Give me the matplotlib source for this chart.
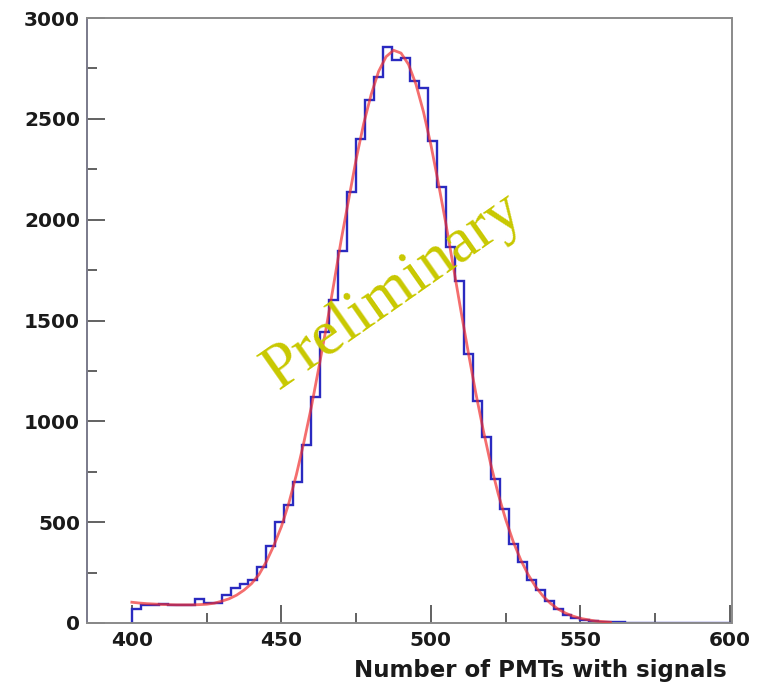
import numpy as np
import matplotlib
matplotlib.use("Agg")
import matplotlib.pyplot as plt
from matplotlib.ticker import MultipleLocator

# Histogram: bins of width 3 starting at 400
bin_width = 3
bin_start = 400
counts = [
    70, 88, 90, 92, 88, 87, 90, 118, 97, 98,
    137, 172, 192, 215, 277, 380, 503, 583, 698, 885,
    1119, 1441, 1600, 1845, 2135, 2398, 2591, 2706, 2857, 2790,
    2800, 2687, 2655, 2390, 2160, 1866, 1697, 1334, 1102, 921,
    715, 566, 393, 302, 211, 165, 108, 67, 42, 25,
    14, 10, 7, 5, 3, 2, 2, 1, 1, 0,
    0, 0, 0, 0, 0, 0, 0,
]

# Fitted curve, sampled every 2.5 units
fit_x = [400 + 2.5 * i for i in range(65)]
fit_y = [
    103, 99, 96, 94, 92, 91, 90, 90, 90, 91,
    93, 98, 108, 120, 138, 163, 195, 240, 305, 385,
    478, 595, 735, 895, 1070, 1265, 1465, 1680, 1900, 2100,
    2300, 2475, 2620, 2735, 2808, 2840, 2826, 2770, 2671, 2535,
    2370, 2180, 1980, 1766, 1550, 1341, 1140, 956, 787, 640,
    513, 404, 314, 240, 180, 133, 97, 69, 49, 34,
    23, 16, 10, 7, 4,
]

x_ticks = [400, 450, 500, 550, 600]
y_ticks = [0, 500, 1000, 1500, 2000, 2500, 3000]
x_title = "Number of PMTs with signals"
watermark = "Preliminary"

W, H = 765, 687
fig = plt.figure(figsize=(W / 100, H / 100), dpi=100)
ax = fig.add_axes([87 / W, 1 - 623 / H, (731.5 - 87) / W, (623 - 18) / H])

edges = bin_start + bin_width * np.arange(len(counts) + 1)
ax.stairs(counts, edges, baseline=0, color="#2a2ac0", lw=1.7, zorder=2)
ax.plot(fit_x, fit_y, color="#f03030", lw=2.0, alpha=0.7, zorder=3,
        solid_joinstyle="round")

ax.set_xlim(385, 600.5)
ax.set_ylim(0, 3000)
ax.set_xticks(x_ticks)
ax.set_yticks(y_ticks)
ax.xaxis.set_minor_locator(MultipleLocator(25))
ax.yaxis.set_minor_locator(MultipleLocator(250))

for sp in ax.spines.values():
    sp.set_color("#8a8a8a")
    sp.set_linewidth(1.4)
ax.spines["left"].set_color("#7a7a8a")

ax.tick_params(axis="both", which="both", direction="in", color="#555555",
               width=1.3, top=False, right=False)
ax.tick_params(axis="both", which="major", length=13)
ax.tick_params(axis="both", which="minor", length=7)
ax.tick_params(axis="y", which="major", pad=5)
ax.tick_params(axis="x", which="major", pad=6)
for lab in ax.get_xticklabels() + ax.get_yticklabels():
    lab.set_fontfamily("DejaVu Sans")
    lab.set_fontweight("bold")
    lab.set_fontsize(14.5)
    lab.set_color("#1a1a1a")

fig.text(727 / W, 1 - 677 / H, x_title, ha="right", va="baseline",
         fontsize=16.5, fontweight="bold", family="DejaVu Sans",
         color="#1a1a1a")

fig.text(393 / W, 1 - 292 / H, watermark, ha="center", va="center",
         rotation=35, rotation_mode="anchor", fontsize=46,
         family="Liberation Serif", color="#c8c800", zorder=5)

fig.savefig("out.png", dpi=100)
